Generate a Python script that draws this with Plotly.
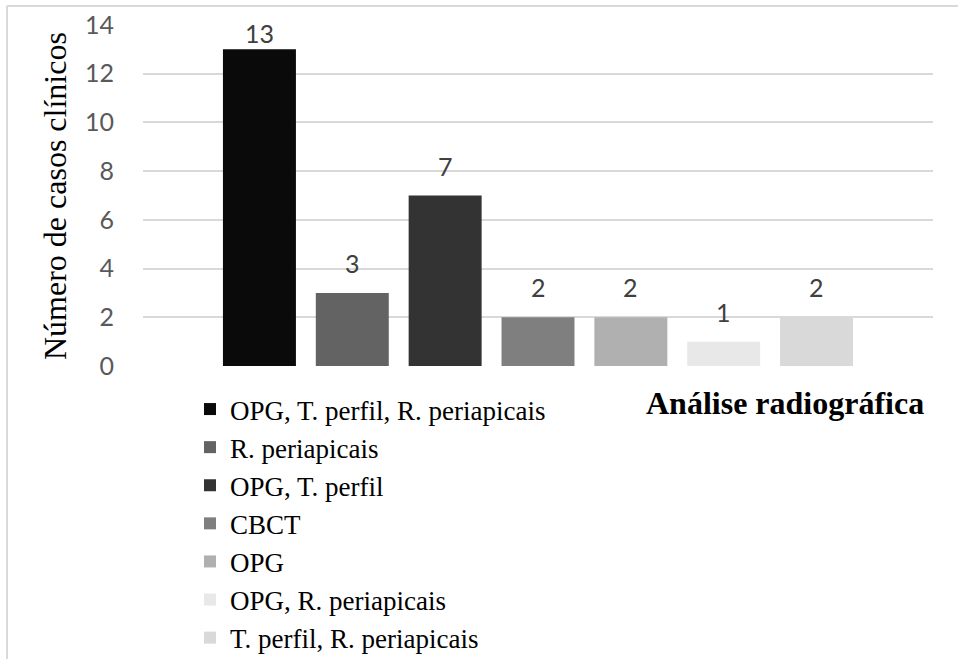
import plotly.graph_objects as go

# ---- data ----
categories = [
    "OPG, T. perfil, R. periapicais",
    "R. periapicais",
    "OPG, T. perfil",
    "CBCT",
    "OPG",
    "OPG, R. periapicais",
    "T. perfil, R. periapicais",
]
values = [13, 3, 7, 2, 2, 1, 2]
colors = ["#0a0a0a", "#636363", "#333333", "#7f7f7f", "#b0b0b0", "#e8e8e8", "#d9d9d9"]
y_ticks = [0, 2, 4, 6, 8, 10, 12, 14]
y_title = "Número de casos clínicos"
x_title = "Análise radiográfica"

SERIF = "Liberation Serif, Times New Roman, serif"
SANS = "Lato, Open Sans, sans-serif"

W, H = 958, 659
L, R, T, B = 143, 25, 25, 293
pw, ph = W - L - R, H - T - B


def px_x(p):
    return (p - L) / pw


def px_y(p):
    return (H - B - p) / ph


fig = go.Figure()
positions = list(range(1, len(categories) + 1))
for pos, name, v, c in zip(positions, categories, values, colors):
    fig.add_trace(go.Bar(
        x=[pos], y=[v], name=name, marker=dict(color=c, line=dict(width=0)),
        width=0.786, hoverinfo="name+y",
    ))

# data labels
ymax = y_ticks[-1]
units_per_px = ymax / ph
for pos, v in zip(positions, values):
    ly = min(v + 30 * units_per_px, ymax - 8 * units_per_px)
    fig.add_annotation(x=pos, y=ly, text=str(v), showarrow=False,
                       xanchor="center", yanchor="middle",
                       font=dict(family=SANS, size=25, color="#404040"))

# axis titles
fig.add_annotation(xref="paper", yref="paper", x=px_x(55), y=px_y(196),
                   text=y_title, textangle=-90, showarrow=False,
                   xanchor="center", yanchor="middle",
                   font=dict(family=SERIF, size=32, color="#000000"))
fig.add_annotation(xref="paper", yref="paper", x=px_x(785), y=px_y(403),
                   text="<b>" + x_title + "</b>", showarrow=False,
                   xanchor="center", yanchor="middle",
                   font=dict(family=SERIF, size=32, color="#000000"))

# chart border (top and left visible)
bx, by = px_x(7), px_y(6)
fig.add_shape(type="line", xref="paper", yref="paper", x0=bx, x1=1.5, y0=by, y1=by,
              line=dict(color="#d9d9d9", width=2))
fig.add_shape(type="line", xref="paper", yref="paper", x0=bx, x1=bx, y0=by, y1=-1.5,
              line=dict(color="#d9d9d9", width=2))

fig.update_layout(
    width=W, height=H,
    margin=dict(l=L, r=R, t=T, b=B, pad=0, autoexpand=False),
    paper_bgcolor="white", plot_bgcolor="white",
    showlegend=True,
    barmode="overlay",
    legend=dict(
        x=px_x(190), y=px_y(385), xanchor="left", yanchor="top",
        orientation="v", font=dict(family=SERIF, size=27, color="#000000"),
        bgcolor="rgba(0,0,0,0)", borderwidth=0, tracegroupgap=0,
    ),
    xaxis=dict(range=[-0.254, 8.254], showticklabels=False, showgrid=False,
               zeroline=False, showline=False, ticks=""),
    yaxis=dict(range=[0, ymax], tickvals=y_ticks, ticktext=[str(t) for t in y_ticks],
               showgrid=True, gridcolor="#d9d9d9", gridwidth=1.5,
               zeroline=False, showline=False, ticks="", ticklabelstandoff=28,
               tickfont=dict(family=SANS, size=25, color="#595959")),
)

fig.write_html("out.html")
